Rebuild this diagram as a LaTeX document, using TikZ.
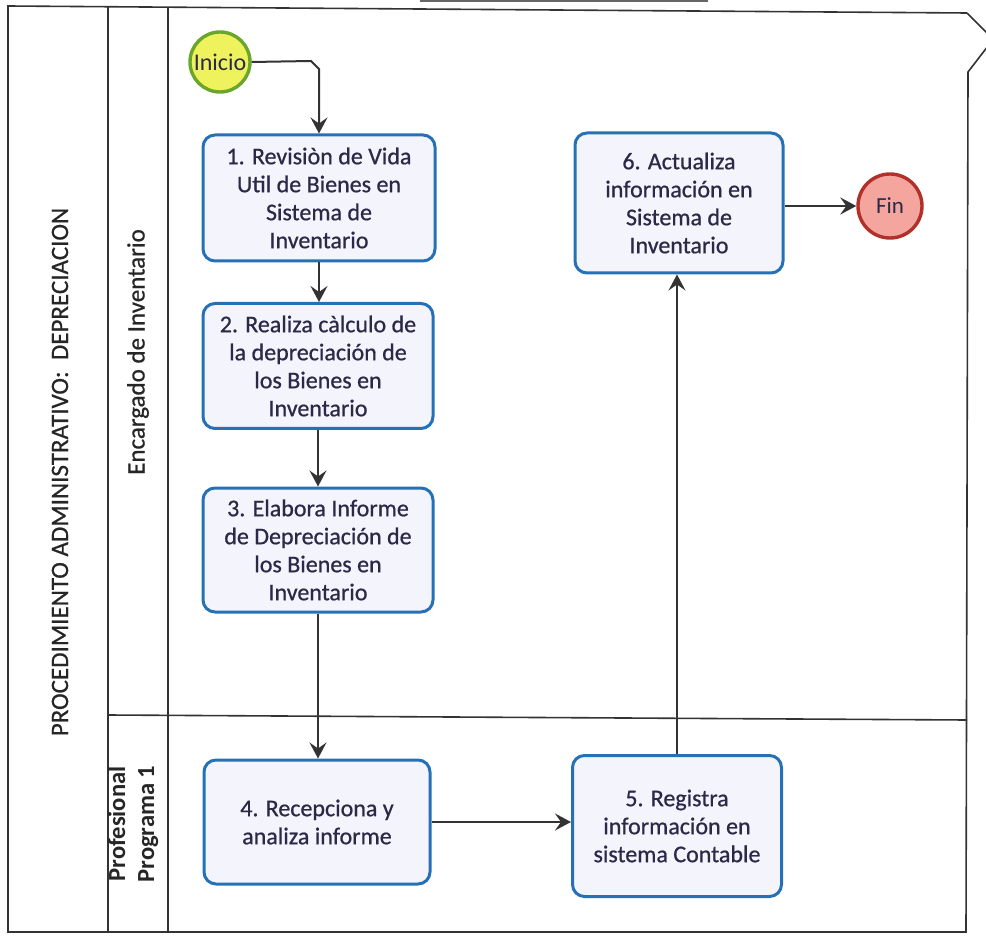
\documentclass[tikz,border=0pt]{standalone}
\usepackage{fontspec}
\setmainfont{Carlito}
\newfontfamily\heavyfont[FakeBold=0.7]{Carlito}
\usetikzlibrary{arrows.meta}
\definecolor{txt}{HTML}{2A2A48}
\definecolor{boxblue}{HTML}{2670B5}
\definecolor{boxfill}{HTML}{F4F4FC}
\definecolor{lineg}{HTML}{333333}
\definecolor{inifill}{HTML}{EEF25C}
\definecolor{iniborder}{HTML}{6AA62C}
\definecolor{finfill}{HTML}{F3A59E}
\definecolor{finborder}{HTML}{B2302A}
\tikzset{
  taskbox/.style={draw=boxblue, line width=1.5pt, fill=boxfill, rounded corners=6pt,
    align=center, text=txt, font=\heavyfont\fontsize{12}{14}\selectfont, inner sep=0pt},
  startev/.style={circle, draw=iniborder, fill=inifill, line width=1.7pt, inner sep=0pt,
    minimum size=30pt, text=txt, font=\fontsize{12}{14}\selectfont},
  endev/.style={circle, draw=finborder, fill=finfill, line width=1.7pt, inner sep=0pt,
    minimum size=32pt, text=txt, font=\fontsize{11.5}{14}\selectfont},
  arr/.style={draw=lineg, line width=1pt, -{Stealth[length=8pt,width=8.5pt,inset=3pt]}},
  frameline/.style={draw=black!80, line width=0.8pt},
  lanelab/.style={rotate=90, text=black!85, align=center, font=\heavyfont\fontsize{12.5}{14.5}\selectfont},
}
\begin{document}
\begin{tikzpicture}[x=0.5pt, y=-0.5pt]
\useasboundingbox (0,0) rectangle (986,941);
% faint header fragment
\draw[black!60, line width=0.6pt] (420,1) -- (708,1);
% outer frame
\draw[frameline] (967,13) -- (8,6) -- (8,932) -- (966,932) -- (968,72) -- (988,46);
\draw[frameline] (967,13) -- (988,34);
% column dividers
\draw[frameline] (108,7) -- (108,932);
\draw[frameline] (168,7) -- (168,932);
% lane divider
\draw[frameline] (108,715) -- (967,720);

% labels
\node[lanelab] (pool) at (60,472) {PROCEDIMIENTO ADMINISTRATIVO:\ \ DEPRECIACION};
\node[lanelab] (lane1) at (138,352) {Encargado de Inventario};
\node[lanelab, font=\bfseries\fontsize{12.3}{14.5}\selectfont] (lane2) at (133,824) {Profesional\\Programa 1};

% events
\node[startev] (ini) at (220,62) {Inicio};
\node[endev] (fin) at (890,206) {Fin};

% tasks
\node[taskbox, minimum width=116pt, minimum height=63pt] (b1) at (319,198)
  {1. Revisiòn de Vida\\Util de Bienes en\\Sistema de\\Inventario};
\node[taskbox, minimum width=115pt, minimum height=62.5pt] (b2) at (318,366)
  {2. Realiza càlculo de\\la depreciación de\\los Bienes en\\Inventario};
\node[taskbox, minimum width=115pt, minimum height=62pt] (b3) at (318,550)
  {3. Elabora Informe\\de Depreciación de\\los Bienes en\\Inventario};
\node[taskbox, minimum width=113pt, minimum height=62pt] (b4) at (317,822)
  {4. Recepciona y\\analiza informe};
\node[taskbox, minimum width=104.5pt, minimum height=70.5pt] (b5) at (677,826)
  {5. Registra\\información en\\sistema Contable};
\node[taskbox, minimum width=104pt, minimum height=70pt] (b6) at (679,203)
  {6. Actualiza\\información en\\Sistema de\\Inventario};

% connectors
\coordinate (c1) at (311,61);
\coordinate (c2) at (319,69);
\draw[arr] (ini.east) -- (c1) -- (c2) -- (b1.north);
\draw[arr] (b1.south) -- (b1.south |- b2.north);
\draw[arr] (b2.south) -- (b2.south |- b3.north);
\draw[arr] (b3.south) -- (b3.south |- b4.north);
\draw[arr] (b4.east) -- (b4.east -| b5.west);
\draw[arr] (b5.north) -- (b5.north |- b6.south);
\draw[arr] (b6.east |- fin.west) -- (fin.west);
\end{tikzpicture}
\end{document}
